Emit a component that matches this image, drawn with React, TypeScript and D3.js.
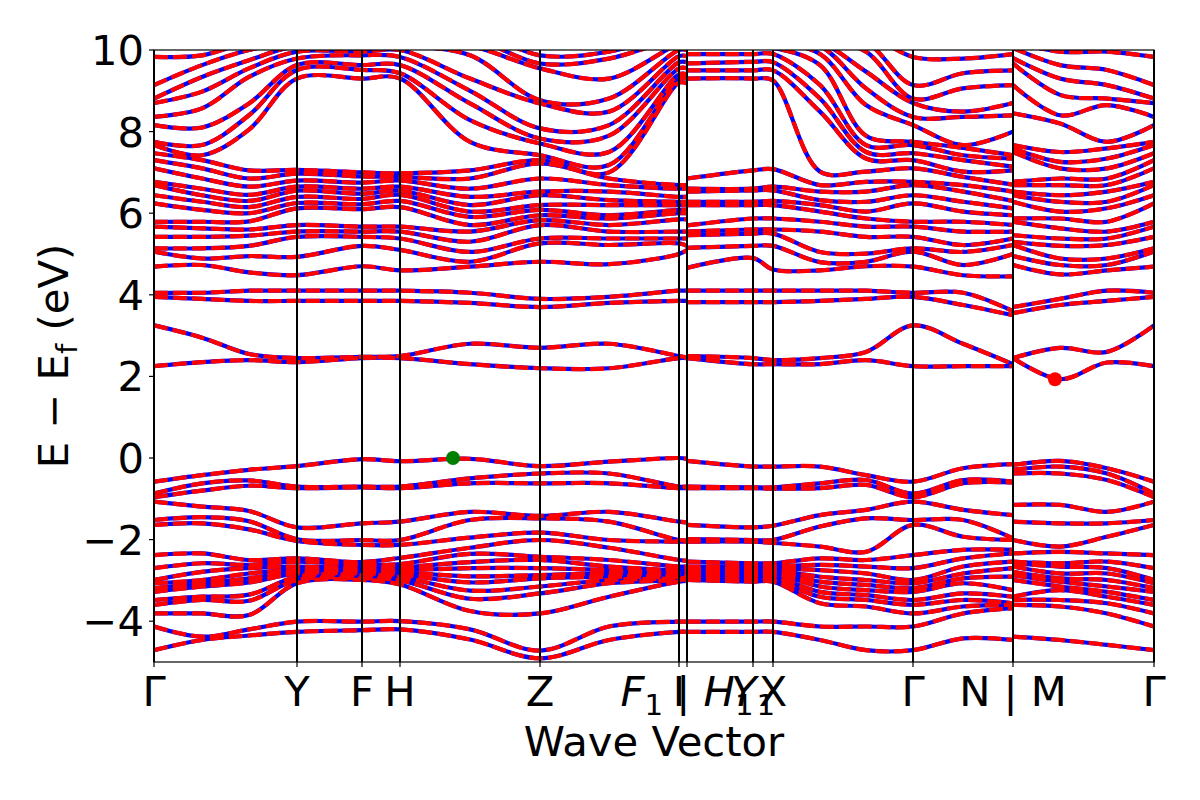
import { useEffect, useRef } from 'react';
import * as d3 from 'd3';

// k-path sample positions (arbitrary path length units, 0..1000)
const kPath = [0, 48, 95, 143, 208, 246, 316, 386, 455, 525, 533, 533, 599, 619, 666, 712, 759, 809, 859, 859, 906, 953, 1000];
// continuous pieces of the path (index ranges into kPath)
const pieces = [[0, 10], [11, 18], [19, 22]];

const tickPos = [0, 143, 208, 246, 386, 525, 533, 599, 619, 759, 859, 1000];
const tickLabels = ['Γ', 'Y', 'F', 'H', 'Z', 'I', '$F_1$ | $H_1$', '$Y_1$', 'X', 'Γ', 'N | M', 'Γ'];
const energyTicks = [-4, -2, 0, 2, 4, 6, 8, 10];

// valence eigenvalues at each k sample (eV, top to bottom)
const gammaValence = [-0.58, -0.87, -0.96, -1.07, -1.52, -1.64, -2.38, -2.70, -2.99, -3.07, -3.19, -3.28, -3.48, -3.60, -3.81, -4.13, -4.71];
const valenceAtK = [
  gammaValence,
  [-0.42, -0.62, -0.80, -1.19, -1.45, -1.60, -2.34, -2.58, -2.79, -2.99, -3.07, -3.15, -3.40, -3.48, -3.81, -4.38, -4.46],
  [-0.29, -0.55, -0.68, -1.30, -1.55, -1.75, -2.50, -2.62, -2.70, -2.83, -2.95, -3.05, -3.35, -3.50, -3.85, -4.20, -4.35],
  [-0.20, -0.70, -0.74, -1.70, -1.99, -2.03, -2.46, -2.54, -2.66, -2.75, -2.79, -2.83, -2.91, -2.99, -3.07, -4.01, -4.26],
  [-0.03, -0.70, -0.72, -1.60, -2.01, -2.13, -2.55, -2.62, -2.70, -2.75, -2.79, -2.83, -2.87, -2.95, -2.99, -4.01, -4.22],
  [-0.08, -0.70, -0.74, -1.56, -2.01, -2.13, -2.45, -2.60, -2.68, -2.75, -2.80, -2.86, -2.92, -3.00, -3.10, -4.00, -4.20],
  [-0.02, -0.50, -0.62, -1.32, -1.52, -1.95, -2.20, -2.35, -2.55, -2.70, -2.90, -3.05, -3.25, -3.45, -3.75, -4.20, -4.45],
  [-0.20, -0.38, -0.62, -1.42, -1.48, -1.83, -2.01, -2.42, -2.50, -2.70, -2.87, -2.95, -3.15, -3.32, -3.81, -4.72, -4.91],
  [-0.09, -0.38, -0.62, -1.32, -1.56, -2.01, -2.20, -2.50, -2.66, -2.75, -2.83, -2.91, -2.99, -3.07, -3.40, -4.13, -4.46],
  [0.00, -0.70, -0.74, -1.56, -2.01, -2.05, -2.50, -2.66, -2.75, -2.83, -2.87, -2.91, -2.95, -2.99, -3.03, -4.01, -4.26],
  [-0.02, -0.70, -0.74, -1.58, -2.01, -2.05, -2.52, -2.66, -2.75, -2.81, -2.85, -2.89, -2.93, -2.97, -3.01, -4.01, -4.26],
  [-0.07, -0.70, -0.74, -1.64, -1.99, -2.05, -2.54, -2.66, -2.75, -2.79, -2.83, -2.87, -2.91, -2.95, -2.99, -4.01, -4.26],
  [-0.21, -0.72, -0.74, -1.70, -2.01, -2.05, -2.58, -2.66, -2.70, -2.75, -2.79, -2.83, -2.91, -2.99, -3.03, -4.01, -4.26],
  [-0.21, -0.72, -0.75, -1.66, -2.01, -2.08, -2.58, -2.66, -2.70, -2.75, -2.79, -2.83, -2.91, -2.99, -3.03, -4.01, -4.26],
  [-0.21, -0.62, -0.74, -1.40, -1.68, -2.17, -2.46, -2.62, -2.75, -2.91, -3.03, -3.15, -3.28, -3.40, -3.56, -4.13, -4.46],
  [-0.42, -0.54, -0.66, -1.27, -1.48, -2.30, -2.50, -2.66, -2.83, -2.99, -3.11, -3.24, -3.36, -3.48, -3.64, -4.13, -4.71],
  gammaValence,
  [-0.25, -0.54, -0.62, -1.27, -1.52, -1.93, -2.25, -2.46, -2.66, -2.83, -2.95, -3.07, -3.32, -3.48, -3.64, -3.81, -4.42],
  [-0.15, -0.58, -0.60, -1.40, -1.97, -2.01, -2.25, -2.34, -2.54, -2.70, -2.91, -3.24, -3.40, -3.56, -3.60, -3.68, -4.46],
  [-0.17, -0.29, -0.38, -1.15, -1.56, -2.01, -2.34, -2.54, -2.58, -2.66, -2.79, -2.87, -2.99, -3.40, -3.48, -3.60, -4.38],
  [-0.07, -0.21, -0.38, -1.15, -1.60, -2.17, -2.30, -2.58, -2.66, -2.83, -2.95, -3.03, -3.15, -3.24, -3.48, -3.64, -4.46],
  [-0.25, -0.38, -0.54, -1.32, -1.60, -1.93, -2.34, -2.54, -2.70, -2.83, -2.99, -3.15, -3.28, -3.40, -3.56, -3.81, -4.58],
  gammaValence,
];

// lowest four conduction bands (one row per band, along kPath)
const cond1 = [2.25, 2.35, 2.40, 2.35, 2.45, 2.45, 2.30, 2.20, 2.20, 2.45, 2.45, 2.45, 2.30, 2.30, 2.30, 2.40, 2.25, 2.25, 2.25, 2.45, 1.93, 2.34, 2.25];
const cond2 = [3.25, 2.95, 2.55, 2.45, 2.48, 2.50, 2.80, 2.70, 2.80, 2.50, 2.47, 2.50, 2.45, 2.40, 2.45, 2.60, 3.25, 2.80, 2.30, 2.45, 2.70, 2.60, 3.25];
const cond3 = [3.95, 3.90, 3.85, 3.85, 3.85, 3.85, 3.80, 3.70, 3.80, 3.85, 3.85, 3.82, 3.82, 3.82, 3.85, 3.90, 3.95, 3.75, 3.50, 3.55, 3.75, 3.85, 3.95];
const cond4 = [4.05, 4.05, 4.10, 4.10, 4.10, 4.10, 4.05, 3.90, 3.95, 4.10, 4.10, 4.10, 4.10, 4.10, 4.10, 4.10, 4.05, 4.05, 3.60, 3.70, 3.90, 4.10, 4.05];

// higher conduction eigenvalues at each k sample (eV, bottom to top)
const gammaUpper = [4.69, 5.06, 5.14, 5.42, 5.67, 5.79, 6.24, 6.44, 6.69, 6.77, 7.10, 7.30, 7.47, 7.67, 7.75, 8.16, 8.36, 8.70, 8.81, 9.14, 9.83, 10.2, 10.4, 10.6];
const upperAtK = [
  gammaUpper,
  [4.73, 4.89, 5.14, 5.42, 5.63, 5.79, 6.08, 6.28, 6.44, 6.60, 6.85, 7.10, 7.30, 7.42, 7.67, 8.10, 8.57, 8.98, 9.34, 9.63, 9.87, 10.1, 10.3, 10.5],
  [4.55, 4.95, 5.20, 5.45, 5.60, 5.80, 6.00, 6.15, 6.30, 6.45, 6.65, 6.85, 7.05, 8.05, 8.40, 8.69, 9.34, 9.55, 9.75, 10.0, 10.2, 10.4, 10.6, 10.8],
  [4.48, 4.93, 5.42, 5.55, 5.71, 6.12, 6.25, 6.40, 6.55, 6.65, 6.80, 6.97, 7.06, 9.30, 9.51, 9.63, 9.79, 9.96, 10.1, 10.2, 10.35, 10.5, 10.6, 10.7],
  [4.70, 5.20, 5.42, 5.55, 5.67, 6.10, 6.22, 6.35, 6.48, 6.60, 6.75, 6.90, 7.00, 9.30, 9.51, 9.63, 9.87, 9.96, 10.1, 10.2, 10.3, 10.4, 10.5, 10.6],
  [4.60, 5.10, 5.38, 5.55, 5.67, 6.15, 6.30, 6.45, 6.55, 6.65, 6.80, 6.89, 6.98, 9.30, 9.43, 9.63, 9.83, 10.0, 10.1, 10.2, 10.3, 10.4, 10.5, 10.6],
  [4.69, 4.81, 5.05, 5.30, 5.55, 5.71, 5.91, 6.04, 6.20, 6.40, 6.60, 6.85, 7.05, 7.75, 8.28, 8.69, 9.00, 9.30, 9.87, 10.1, 10.3, 10.5, 10.7, 10.9],
  [4.81, 5.26, 5.38, 5.71, 5.83, 5.95, 6.08, 6.20, 6.44, 6.53, 6.85, 7.22, 7.30, 7.42, 7.71, 7.83, 8.08, 8.69, 8.77, 9.55, 9.67, 9.87, 10.2, 10.4],
  [4.75, 5.22, 5.38, 5.55, 5.71, 5.87, 5.95, 6.20, 6.32, 6.53, 6.69, 6.85, 7.00, 7.18, 7.50, 7.90, 8.16, 8.49, 8.81, 9.30, 9.79, 9.96, 10.2, 10.4],
  [5.00, 5.26, 5.38, 5.55, 5.85, 6.00, 6.08, 6.20, 6.28, 6.40, 6.60, 6.69, 9.20, 9.30, 9.40, 9.55, 9.70, 9.85, 10.0, 10.15, 10.3, 10.45, 10.6, 10.75],
  [5.10, 5.20, 5.38, 5.55, 5.85, 6.00, 6.08, 6.20, 6.28, 6.40, 6.60, 6.69, 9.18, 9.30, 9.40, 9.55, 9.70, 9.85, 10.0, 10.15, 10.3, 10.45, 10.6, 10.75],
  [4.66, 5.15, 5.46, 5.55, 5.70, 6.20, 6.28, 6.53, 6.60, 6.85, 9.30, 9.50, 9.67, 9.90, 10.1, 10.2, 10.3, 10.4, 10.5, 10.6, 10.7, 10.8, 10.9, 11.0],
  [4.90, 5.20, 5.50, 5.60, 5.87, 6.20, 6.28, 6.56, 6.60, 7.05, 9.30, 9.50, 9.71, 9.90, 10.05, 10.2, 10.3, 10.4, 10.5, 10.6, 10.7, 10.8, 10.9, 11.0],
  [4.62, 5.20, 5.50, 5.60, 5.87, 6.20, 6.30, 6.56, 6.65, 7.08, 9.25, 9.50, 9.70, 9.90, 10.05, 10.2, 10.3, 10.4, 10.5, 10.6, 10.7, 10.8, 10.9, 11.0],
  [4.60, 4.80, 5.05, 5.55, 5.79, 6.04, 6.20, 6.32, 6.53, 6.69, 7.02, 8.49, 8.81, 9.14, 9.63, 9.90, 10.1, 10.2, 10.3, 10.4, 10.5, 10.6, 10.7, 10.8],
  [4.70, 4.81, 5.01, 5.42, 5.67, 5.87, 6.04, 6.28, 6.53, 6.77, 7.02, 7.34, 7.50, 7.67, 7.90, 8.65, 9.06, 9.47, 9.96, 10.2, 10.4, 10.6, 10.8, 11.0],
  gammaUpper,
  [4.48, 4.73, 5.05, 5.22, 5.55, 5.79, 6.04, 6.28, 6.53, 6.69, 6.89, 7.02, 7.30, 7.42, 7.60, 7.67, 8.36, 8.49, 9.06, 9.43, 9.79, 10.1, 10.3, 10.5],
  [4.45, 5.00, 5.22, 5.38, 5.55, 5.71, 5.95, 6.12, 6.30, 6.53, 6.70, 7.05, 7.14, 7.34, 7.42, 8.00, 8.40, 8.70, 9.14, 9.50, 9.90, 10.1, 10.3, 10.5],
  [4.73, 4.95, 5.22, 5.30, 5.46, 5.79, 5.87, 6.28, 6.44, 6.53, 6.69, 6.77, 7.50, 7.59, 7.67, 8.45, 9.14, 9.67, 9.80, 10.05, 10.2, 10.35, 10.5, 10.65],
  [4.50, 4.73, 4.89, 5.20, 5.38, 5.63, 5.87, 6.04, 6.28, 6.44, 6.69, 6.85, 7.10, 7.26, 7.50, 8.20, 8.40, 8.90, 9.30, 9.63, 9.96, 10.2, 10.4, 10.6],
  [4.60, 4.73, 4.89, 5.22, 5.38, 5.55, 5.79, 6.12, 6.28, 6.53, 6.69, 6.85, 7.10, 7.34, 7.59, 7.75, 8.65, 8.81, 9.14, 9.51, 9.96, 10.2, 10.4, 10.6],
  gammaUpper,
];

// band extrema markers
const vbm = { k: 299, e: 0.0 };
const cbm = { k: 901, e: 1.93 };

const FONT = 'DejaVu Sans, sans-serif';
const FS = 41.7;

const transpose = (cols: number[][]) => cols[0].map((_, b) => cols.map(c => c[b]));

const BandChart = () => {
  const svgRef = useRef<SVGSVGElement | null>(null);

  useEffect(() => {
    const svg = d3.select(svgRef.current);
    svg.selectAll('*').remove();

    const x = d3.scaleLinear().domain([0, 1000]).range([154, 1154]);
    const y = d3.scaleLinear().domain([-5, 10]).range([662, 50]);

    svg.append('rect').attr('width', 1200).attr('height', 800).attr('fill', '#fff');

    svg.append('clipPath').attr('id', 'plot-clip')
      .append('rect')
      .attr('x', x(0)).attr('y', y(10))
      .attr('width', x(1000) - x(0)).attr('height', y(-5) - y(10));

    const bands = [...transpose(valenceAtK), cond1, cond2, cond3, cond4, ...transpose(upperAtK)];

    const plot = svg.append('g').attr('clip-path', 'url(#plot-clip)');

    const drawPass = (color: string, dash: string | null) => {
      bands.forEach(band => {
        pieces.forEach(([a, b]) => {
          const line = d3.line<number>()
            .x((_, i) => x(kPath[a + i]))
            .y(d => y(d))
            .curve(d3.curveCatmullRom.alpha(0.5));
          const p = plot.append('path')
            .datum(band.slice(a, b + 1))
            .attr('fill', 'none')
            .attr('stroke', color)
            .attr('stroke-width', 4.2)
            .attr('d', line);
          if (dash) p.attr('stroke-dasharray', dash);
        });
      });
    };
    drawPass('#0000ff', null);
    drawPass('#ff0000', '14,5');

    // high-symmetry lines
    svg.append('g').selectAll('line')
      .data(tickPos)
      .enter()
      .append('line')
      .attr('x1', d => x(d)).attr('x2', d => x(d))
      .attr('y1', y(10)).attr('y2', y(-5))
      .attr('stroke', '#000')
      .attr('stroke-width', 2);

    // extrema markers
    svg.append('circle').attr('cx', x(vbm.k)).attr('cy', y(vbm.e)).attr('r', 7).attr('fill', 'green');
    svg.append('circle').attr('cx', x(cbm.k)).attr('cy', y(cbm.e)).attr('r', 7).attr('fill', 'red');

    // frame
    svg.append('rect')
      .attr('x', x(0)).attr('y', y(10))
      .attr('width', x(1000) - x(0)).attr('height', y(-5) - y(10))
      .attr('fill', 'none').attr('stroke', '#000').attr('stroke-width', 1.2);

    // y ticks
    const yAxis = svg.append('g');
    energyTicks.forEach(t => {
      yAxis.append('line')
        .attr('x1', 149).attr('x2', 154)
        .attr('y1', y(t)).attr('y2', y(t))
        .attr('stroke', '#000').attr('stroke-width', 1.2);
      yAxis.append('text')
        .attr('x', 144).attr('y', y(t))
        .attr('dy', '0.36em')
        .attr('text-anchor', 'end')
        .attr('font-family', FONT)
        .attr('font-size', FS)
        .text(t < 0 ? `\u2212${Math.abs(t)}` : `${t}`);
    });

    // x ticks
    const xAxis = svg.append('g');
    tickPos.forEach((t, i) => {
      xAxis.append('line')
        .attr('x1', x(t)).attr('x2', x(t))
        .attr('y1', 662).attr('y2', 667)
        .attr('stroke', '#000').attr('stroke-width', 1.2);
      const txt = xAxis.append('text')
        .attr('x', x(t)).attr('y', 706)
        .attr('text-anchor', 'middle')
        .attr('font-family', FONT)
        .attr('font-size', FS)
        .style('white-space', 'pre');
      // tiny mathtext: $A_1$ -> italic A with subscript 1
      const parts = tickLabels[i].split(/(\$[A-Z]_\d\$)/).filter(s => s.length);
      let shifted = 0;
      parts.forEach(part => {
        const m = part.match(/^\$([A-Z])_(\d)\$$/);
        if (m) {
          txt.append('tspan').attr('font-style', 'italic').attr('dy', -shifted).text(m[1]);
          txt.append('tspan').attr('font-size', FS * 0.7).attr('dy', 9).text(m[2]);
          shifted = 9;
        } else {
          txt.append('tspan').attr('dy', -shifted).text(part);
          shifted = 0;
        }
      });
    });

    svg.append('text')
      .attr('x', 654).attr('y', 756)
      .attr('text-anchor', 'middle')
      .attr('font-family', FONT)
      .attr('font-size', FS)
      .text('Wave Vector');

    const ylab = svg.append('text')
      .attr('transform', 'translate(68,356) rotate(-90)')
      .attr('text-anchor', 'middle')
      .attr('font-family', FONT)
      .attr('font-size', FS)
      .style('white-space', 'pre');
    ylab.append('tspan').text('E \u2212 E');
    ylab.append('tspan').attr('font-size', FS * 0.7).attr('dy', 9).text('f');
    ylab.append('tspan').attr('dy', -9).text(' (eV)');
  }, []);

  return <svg ref={svgRef} width={1200} height={800} style={{ position: 'absolute', left: 0, top: 0 }} />;
};

export default function App() {
  return <BandChart />;
}
